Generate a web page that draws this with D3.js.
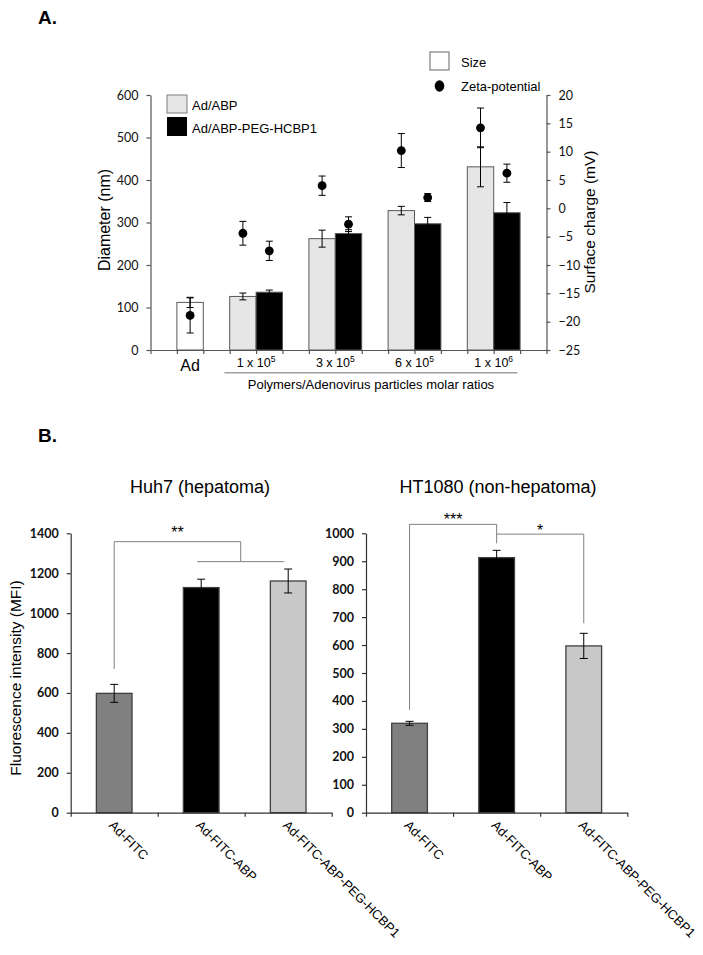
<!DOCTYPE html>
<html>
<head>
<meta charset="utf-8">
<script src="https://cdn.jsdelivr.net/npm/d3@7"></script>
<style>
  body { margin: 0; background: #fff; }
  text { font-family: "Liberation Sans", Arial, sans-serif; fill: #000; }
  .tickA text { font-family: Lato, "Liberation Sans", sans-serif; font-size: 12.5px; fill: #111; }
  .tickB text { font-family: Lato, "Liberation Sans", sans-serif; font-size: 12.5px; font-weight: bold; fill: #111; }
</style>
</head>
<body>
<svg id="fig" width="703" height="955"></svg>
<script>
////////////////////////////////////////////////////////// DATOS PANEL A

var ratioBase = ["1 x 10", "3 x 10", "6 x 10", "1 x 10"];
var ratioExp = ["5", "5", "5", "6"];

var sizeAd = 112, sizeAdErr = 12;
var zetaAd = -18.9, zetaAdErr = 3.1;

var sizeABP = [126, 262, 328, 431];
var sizeABPErr = [8, 20, 10, 47];
var sizePEG = [136, 274, 297, 323];
var sizePEGErr = [5, 9, 15, 24];

var zetaABP = [-4.4, 4.0, 10.2, 14.2];
var zetaABPErr = [2.1, 1.7, 3.0, 3.5];
var zetaPEG = [-7.5, -2.8, 1.9, 6.2];
var zetaPEGErr = [1.7, 1.3, 0.7, 1.6];

var sizeTicks = [0, 100, 200, 300, 400, 500, 600];
var zetaTicks = [-25, -20, -15, -10, -5, 0, 5, 10, 15, 20];

////////////////////////////////////////////////////////// DATOS PANEL B

var samplesB = ["Ad-FITC", "Ad-FITC-ABP", "Ad-FITC-ABP-PEG-HCBP1"];
var huh7Values = [598, 1128, 1161];
var huh7Err = [45, 42, 60];
var ht1080Values = [320, 913, 597];
var ht1080Err = [7, 26, 45];
var huh7Ticks = [0, 200, 400, 600, 800, 1000, 1200, 1400];
var ht1080Ticks = [0, 100, 200, 300, 400, 500, 600, 700, 800, 900, 1000];

var svg = d3.select("#fig");

function errorBar(g, x, y1, y2, cap) {
  g.append("line").attr("x1", x).attr("x2", x).attr("y1", y1).attr("y2", y2)
    .attr("stroke", "#000").attr("stroke-width", 1);
  [y1, y2].forEach(function (yy) {
    g.append("line").attr("x1", x - cap / 2).attr("x2", x + cap / 2).attr("y1", yy).attr("y2", yy)
      .attr("stroke", "#000").attr("stroke-width", 1);
  });
}

/////////////////////////////////////////////////////////////////////////// PANEL A

svg.append("text").attr("x", 38).attr("y", 24)
  .attr("font-size", 19).attr("font-weight", "bold").text("A.");

// 15 casillas de barra a lo largo del eje
var xA = d3.scaleLinear().domain([0, 15]).range([150.5, 546.5]);
var yL = d3.scaleLinear().domain([0, 600]).range([350, 95]);
var yR = d3.scaleLinear().domain([-25, 20]).range([350, 95]);
var greyA = "#7f7f7f";

var barsA = [{ slot: 1, v: sizeAd, e: sizeAdErr, fill: "#fff" }];
var zetaA = [{ slot: 1, v: zetaAd, e: zetaAdErr }];
for (var i = 0; i < sizeABP.length; i++) {
  barsA.push({ slot: 3 + 3 * i, v: sizeABP[i], e: sizeABPErr[i], fill: "#e6e6e6" });
  barsA.push({ slot: 4 + 3 * i, v: sizePEG[i], e: sizePEGErr[i], fill: "#000" });
  zetaA.push({ slot: 3 + 3 * i, v: zetaABP[i], e: zetaABPErr[i] });
  zetaA.push({ slot: 4 + 3 * i, v: zetaPEG[i], e: zetaPEGErr[i] });
}

var gA = svg.append("g");

gA.selectAll("rect.bar").data(barsA).enter().append("rect")
  .attr("class", "bar")
  .attr("x", d => xA(d.slot))
  .attr("width", d => xA(d.slot + 1) - xA(d.slot))
  .attr("y", d => yL(d.v))
  .attr("height", d => yL(0) - yL(d.v))
  .attr("fill", d => d.fill)
  .attr("stroke", "#595959").attr("stroke-width", 1);

barsA.forEach(function (d) {
  errorBar(gA, xA(d.slot + 0.5), yL(d.v + d.e), yL(d.v - d.e), 7);
});
zetaA.forEach(function (d) {
  errorBar(gA, xA(d.slot + 0.5), yR(d.v + d.e), yR(d.v - d.e), 7);
});
gA.selectAll("circle.zeta").data(zetaA).enter().append("circle")
  .attr("class", "zeta")
  .attr("cx", d => xA(d.slot + 0.5))
  .attr("cy", d => yR(d.v))
  .attr("r", 4.4).attr("fill", "#000");

// ejes
var axXA = gA.append("g").attr("transform", "translate(0,350)")
  .call(d3.axisBottom(xA).tickValues(d3.range(16)).tickFormat("").tickSize(4).tickSizeOuter(0));
var axLA = gA.append("g").attr("class", "tickA").attr("transform", "translate(150.5,0)")
  .call(d3.axisLeft(yL).tickValues(sizeTicks).tickFormat(d3.format("d")).tickSize(4).tickPadding(8).tickSizeOuter(0));
var axRA = gA.append("g").attr("class", "tickA").attr("transform", "translate(546.5,0)")
  .call(d3.axisRight(yR).tickValues(zetaTicks).tickFormat(d3.format("d")).tickSize(4).tickPadding(8).tickSizeOuter(0));
[axXA, axLA, axRA].forEach(function (a) {
  a.selectAll("path, line").attr("stroke", "#555").attr("stroke-width", 1.2);
});

// etiquetas del eje x
gA.append("text").attr("x", xA(1.5)).attr("y", 370.5)
  .attr("text-anchor", "middle").attr("font-size", 16).text("Ad");

ratioBase.forEach(function (b, i) {
  var t = gA.append("text").attr("x", xA(4 + 3 * i)).attr("y", 366.5)
    .attr("text-anchor", "middle").attr("font-size", 12.5);
  t.append("tspan").text(b);
  t.append("tspan").attr("dy", -5).attr("font-size", 8.5).text(ratioExp[i]);
});

gA.append("line").attr("x1", xA(2.8)).attr("x2", xA(13.9)).attr("y1", 372.7).attr("y2", 372.7)
  .attr("stroke", "#a0a0a0").attr("stroke-width", 1.5);
gA.append("text").attr("x", (xA(2.8) + xA(13.9)) / 2).attr("y", 388.5)
  .attr("text-anchor", "middle").attr("font-size", 13)
  .text("Polymers/Adenovirus particles molar ratios");

gA.append("text").attr("transform", "translate(109.5,220) rotate(-90)")
  .attr("text-anchor", "middle").attr("font-size", 16).text("Diameter (nm)");
gA.append("text").attr("transform", "translate(594.5,222) rotate(-90)")
  .attr("text-anchor", "middle").attr("font-size", 15.5).text("Surface charge (mV)");

// leyendas
gA.append("rect").attr("x", 167).attr("y", 95).attr("width", 20).attr("height", 18)
  .attr("fill", "#e6e6e6").attr("stroke", greyA);
gA.append("rect").attr("x", 167).attr("y", 117).attr("width", 20).attr("height", 19)
  .attr("fill", "#000");
gA.append("text").attr("x", 192).attr("y", 110).attr("font-size", 13).text("Ad/ABP");
gA.append("text").attr("x", 192).attr("y", 132.5).attr("font-size", 13).text("Ad/ABP-PEG-HCBP1");

gA.append("rect").attr("x", 430).attr("y", 52).attr("width", 19).attr("height", 18)
  .attr("fill", "#fff").attr("stroke", greyA).attr("stroke-width", 1.2);
gA.append("ellipse").attr("cx", 439.5).attr("cy", 86).attr("rx", 4.8).attr("ry", 5.8).attr("fill", "#000");
gA.append("text").attr("x", 461).attr("y", 67).attr("font-size", 13).text("Size");
gA.append("text").attr("x", 461).attr("y", 90.5).attr("font-size", 13).text("Zeta-potential");

/////////////////////////////////////////////////////////////////////////// PANEL B

svg.append("text").attr("x", 38).attr("y", 441.5)
  .attr("font-size", 19).attr("font-weight", "bold").text("B.");

var barColorsB = ["#808080", "#000", "#c8c8c8"];

function panelB(opt) {
  var g = svg.append("g");
  var x = d3.scaleBand().domain(samplesB).range([opt.x0, opt.x1])
    .paddingInner(0.59).paddingOuter(0.295);
  var xl = d3.scaleLinear().domain([0, samplesB.length]).range([opt.x0, opt.x1]);
  var y = d3.scaleLinear().domain([0, opt.max]).range([812.7, 533.3]);

  g.selectAll("rect").data(opt.values).enter().append("rect")
    .attr("x", (d, i) => x(samplesB[i]))
    .attr("width", x.bandwidth())
    .attr("y", d => y(d))
    .attr("height", d => y(0) - y(d))
    .attr("fill", (d, i) => barColorsB[i])
    .attr("stroke", "#404040").attr("stroke-width", 1.3);

  opt.values.forEach(function (v, i) {
    var cx = x(samplesB[i]) + x.bandwidth() / 2;
    errorBar(g, cx, y(v + opt.err[i]), y(v - opt.err[i]), 8);
  });

  var ay = g.append("g").attr("class", "tickB").attr("transform", "translate(" + opt.x0 + ",0)")
    .call(d3.axisLeft(y).tickValues(opt.ticks).tickFormat(d3.format("d")).tickSize(4).tickPadding(8).tickSizeOuter(0));
  var ax = g.append("g").attr("transform", "translate(0,812.7)")
    .call(d3.axisBottom(xl).tickValues(d3.range(samplesB.length + 1)).tickFormat("").tickSize(4).tickSizeOuter(0));
  [ax, ay].forEach(function (a) {
    a.selectAll("path, line").attr("stroke", "#333").attr("stroke-width", 1.2);
  });

  samplesB.forEach(function (s) {
    var cx = x(s) + x.bandwidth() / 2;
    g.append("text").attr("transform", "translate(" + (cx - 6) + ",826) rotate(45)")
      .attr("font-size", 13).text(s);
  });

  g.append("text").attr("x", opt.titleX).attr("y", 493)
    .attr("text-anchor", "middle").attr("font-size", 18).text(opt.title);

  // corchetes de significancia
  var c = function (i) { return x(samplesB[i]) + x.bandwidth() / 2; };
  opt.brackets(g, c, y);
  return g;
}

var sig = { stroke: "#808080", "stroke-width": 1 };
function pathB(g, pts) {
  g.append("path").attr("d", d3.line()(pts)).attr("fill", "none")
    .attr("stroke", sig.stroke).attr("stroke-width", sig["stroke-width"]);
}
function starB(g, x, y, s) {
  g.append("text").attr("x", x).attr("y", y).attr("text-anchor", "middle")
    .attr("font-size", 16).text(s);
}

panelB({
  x0: 70.7, x1: 331.7, max: 1400, values: huh7Values, err: huh7Err, ticks: huh7Ticks,
  title: "Huh7 (hepatoma)", titleX: 200,
  brackets: function (g, c, y) {
    var mid = (c(1) + c(2)) / 2 - 4;
    pathB(g, [[c(0), y(720)], [c(0), y(1358)], [mid, y(1358)], [mid, y(1258)]]);
    pathB(g, [[c(1) - 4, y(1258)], [c(2) - 4, y(1258)]]);
    starB(g, (c(0) + mid) / 2, y(1358) - 3.5, "**");
  }
});

panelB({
  x0: 366, x1: 627.3, max: 1000, values: ht1080Values, err: ht1080Err, ticks: ht1080Ticks,
  title: "HT1080 (non-hepatoma)", titleX: 498,
  brackets: function (g, c, y) {
    pathB(g, [[c(0), y(368)], [c(0), y(1032)], [c(1), y(1032)], [c(1), y(964)]]);
    pathB(g, [[c(1), y(997)], [c(2), y(997)], [c(2), y(678)]]);
    starB(g, (c(0) + c(1)) / 2, y(1032) + 1, "***");
    starB(g, (c(1) + c(2)) / 2, y(997) + 2, "*");
  }
});

svg.append("text").attr("transform", "translate(20.5,678) rotate(-90)")
  .attr("text-anchor", "middle").attr("font-size", 15.5).text("Fluorescence intensity (MFI)");
</script>
</body>
</html>
